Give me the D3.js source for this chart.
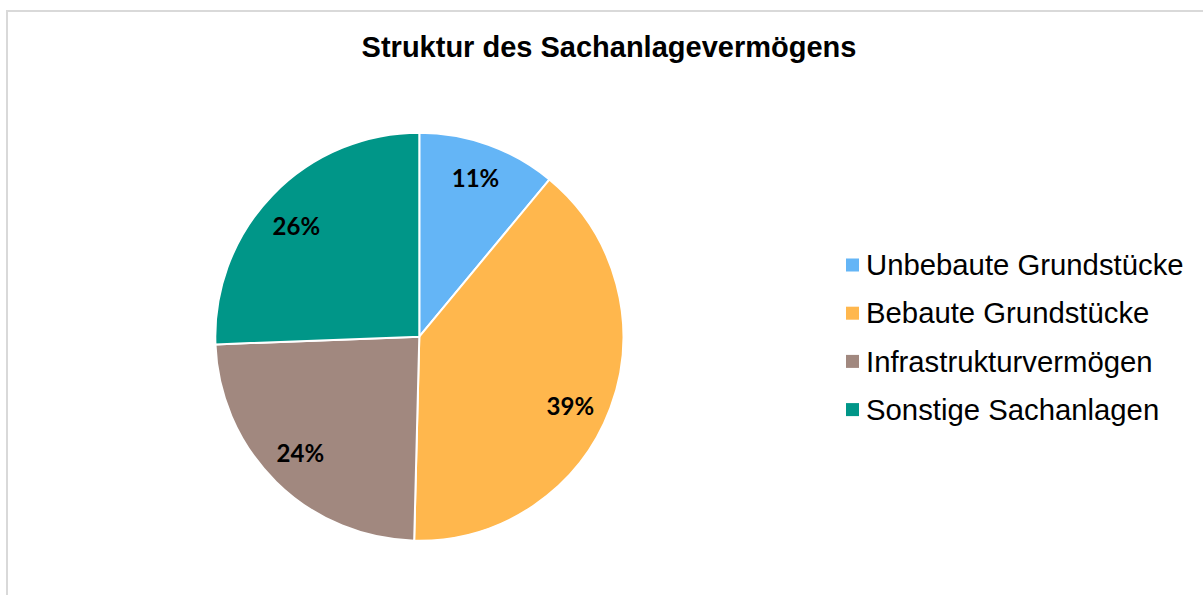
<!DOCTYPE html>
<html>
<head>
<meta charset="utf-8">
<script src="https://cdn.jsdelivr.net/npm/d3@7"></script>
<style>
  html, body { margin: 0; padding: 0; background: #fff; }
  svg { display: block; }
</style>
</head>
<body>
<svg id="chart" width="1203" height="595"></svg>
<script>
const title = "Struktur des Sachanlagevermögens";
const categories = ["Unbebaute Grundstücke", "Bebaute Grundstücke", "Infrastrukturvermögen", "Sonstige Sachanlagen"];
const values = [11.0, 39.4, 24.0, 25.6];
const colors = ["#64B5F6", "#FFB74D", "#A1887F", "#009688"];

const svg = d3.select("#chart");

// chart area border
svg.append("rect")
  .attr("x", 7).attr("y", 11)
  .attr("width", 1230).attr("height", 620)
  .attr("fill", "#fff")
  .attr("stroke", "#D9D9D9").attr("stroke-width", 2);

// title
svg.append("text")
  .attr("x", 609).attr("y", 57)
  .attr("text-anchor", "middle")
  .attr("font-family", "'Liberation Sans', Arial, sans-serif")
  .attr("font-weight", "bold")
  .attr("font-size", 29)
  .attr("fill", "#000")
  .text(title);

const cx = 419.3, cy = 336.7, r = 204;
const total = d3.sum(values);
const pie = d3.pie().sort(null).value(d => d)(values);
const arc = d3.arc().innerRadius(0).outerRadius(r);
const labelArc = d3.arc().innerRadius(166).outerRadius(166);

const g = svg.append("g").attr("transform", `translate(${cx},${cy})`);
g.selectAll("path.slice").data(pie).enter().append("path")
  .attr("class", "slice")
  .attr("d", arc)
  .attr("fill", (d, i) => colors[i])
  .attr("stroke", "#fff")
  .attr("stroke-width", 2)
  .attr("stroke-linejoin", "round");

g.selectAll("text.lbl").data(pie).enter().append("text")
  .attr("class", "lbl")
  .attr("transform", d => {
    // Excel-like best-fit: nudge label slightly toward the lower part of large slices
    const a = (d.startAngle + d.endAngle) / 2 + (d.endAngle - d.startAngle > 2 ? 0.07 : 0) + (d.index === 3 ? -0.03 : 0) + (d.index === 2 ? 0.02 : 0);
    return `translate(${Math.sin(a) * 166},${-Math.cos(a) * 166 - (d.index === 0 ? 3 : 0)})`;
  })
  .attr("text-anchor", "middle")
  .attr("dominant-baseline", "central")
  .attr("font-family", "Lato, 'Open Sans', sans-serif")
  .attr("font-weight", "bold")
  .attr("font-size", 24)
  .attr("fill", "#000")
  .text(d => Math.round(d.data / total * 100) + "%");

// legend
const lg = svg.append("g").attr("transform", "translate(846,265)");
const rows = lg.selectAll("g.row").data(categories).enter().append("g")
  .attr("class", "row")
  .attr("transform", (d, i) => `translate(0,${i * 48.2})`);
rows.append("rect")
  .attr("x", 0).attr("y", -6.5)
  .attr("width", 13).attr("height", 13)
  .attr("fill", (d, i) => colors[i]);
rows.append("text")
  .attr("x", 20).attr("y", 0)
  .attr("dy", "0.35em")
  .attr("font-family", "'Liberation Sans', Arial, sans-serif")
  .attr("font-size", 29.3)
  .attr("fill", "#000")
  .text(d => d);
</script>
</body>
</html>
